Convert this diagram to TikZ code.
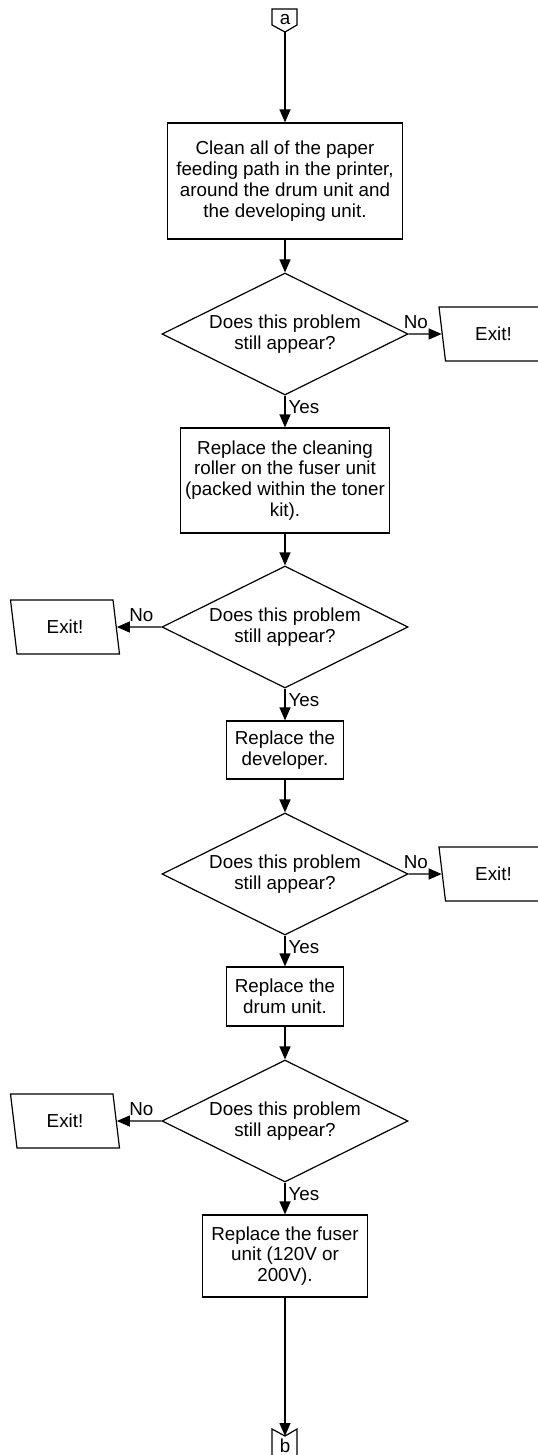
\documentclass[tikz,border=0pt]{standalone}
\usepackage{fontspec}
\setmainfont{Liberation Sans}
\usetikzlibrary{shapes.geometric,arrows.meta}
\begin{document}
\begin{tikzpicture}[x=0.5pt,y=-0.5pt,font=\fontsize{9.4pt}{10.4pt}\selectfont,line width=0.6pt,
    stepbox/.style={draw,rectangle,align=center,inner sep=2pt},
    decision/.style={draw,diamond,aspect=2,inner sep=0pt,align=center,minimum width=123pt,minimum height=61pt},
    exitbox/.style={draw,trapezium,trapezium left angle=103.5,trapezium right angle=76.5,trapezium stretches body,minimum width=54.5pt,minimum height=27pt},
    flow/.style={-{Triangle[length=6.5pt,width=5.5pt]}},
    yeslabel/.style={right,pos=0.36,inner sep=1.5pt},
    nolabel/.style={above,inner sep=2.5pt}]
  \useasboundingbox (0,0) rectangle (537,1455);
  \node (pageA) at (285,20) {a};
  \draw (272,9) -- (297,9) -- (297,25) -- (285,32) -- (272,25) -- cycle;
  \coordinate (pageAtip) at (285,32);
  \node[inner sep=0pt] (pageB) at (285,1445.5) {b};
  \draw (272,1429) -- (285,1436) -- (297,1429) -- (297,1470) -- (272,1470) -- cycle;
  \coordinate (pageBtip) at (285,1436);
  \node[stepbox,minimum width=117.5pt,minimum height=58pt] (box1) at (285,181)
    {Clean all of the paper\\feeding path in the printer,\\around the drum unit and\\the developing unit.};
  \node[stepbox,minimum width=104.5pt,minimum height=52.5pt] (box2) at (285,480.5)
    {Replace the cleaning\\roller on the fuser unit\\(packed within the toner\\kit).};
  \node[stepbox,minimum width=58.5pt,minimum height=29pt] (box3) at (285,750) {Replace the\\developer.};
  \node[stepbox,minimum width=58.5pt,minimum height=29.5pt] (box4) at (285,996.5) {Replace the\\drum unit.};
  \node[stepbox,minimum width=82.5pt,minimum height=41pt] (box5) at (285,1256) {Replace the fuser\\unit (120V or\\200V).};
  \foreach \i/\ypos in {1/334,2/627,3/874,4/1121} {
    \node[decision] (dec\i) at (285,\ypos) {Does this problem\\still appear?};
  }
  \foreach \i/\xpos/\ypos in {1/493.5/334,2/65/627,3/493.5/874,4/65/1121} {
    \node[exitbox] (exit\i) at (\xpos,\ypos) {Exit!};
  }
  \draw[flow] (pageAtip) -- (box1);
  \foreach \i in {1,2,3,4} {
    \draw[flow] (box\i) -- (dec\i);
  }
  \foreach \i/\j in {1/2,2/3,3/4,4/5} {
    \draw[flow] (dec\i) -- node[yeslabel] {Yes} (box\j);
  }
  \foreach \i/\p in {1/0.22,2/0.45,3/0.22,4/0.45} {
    \draw[flow] (dec\i) -- node[nolabel,pos=\p] {No} (exit\i);
  }
  \draw[flow] (box5) -- (pageBtip);
\end{tikzpicture}
\end{document}
